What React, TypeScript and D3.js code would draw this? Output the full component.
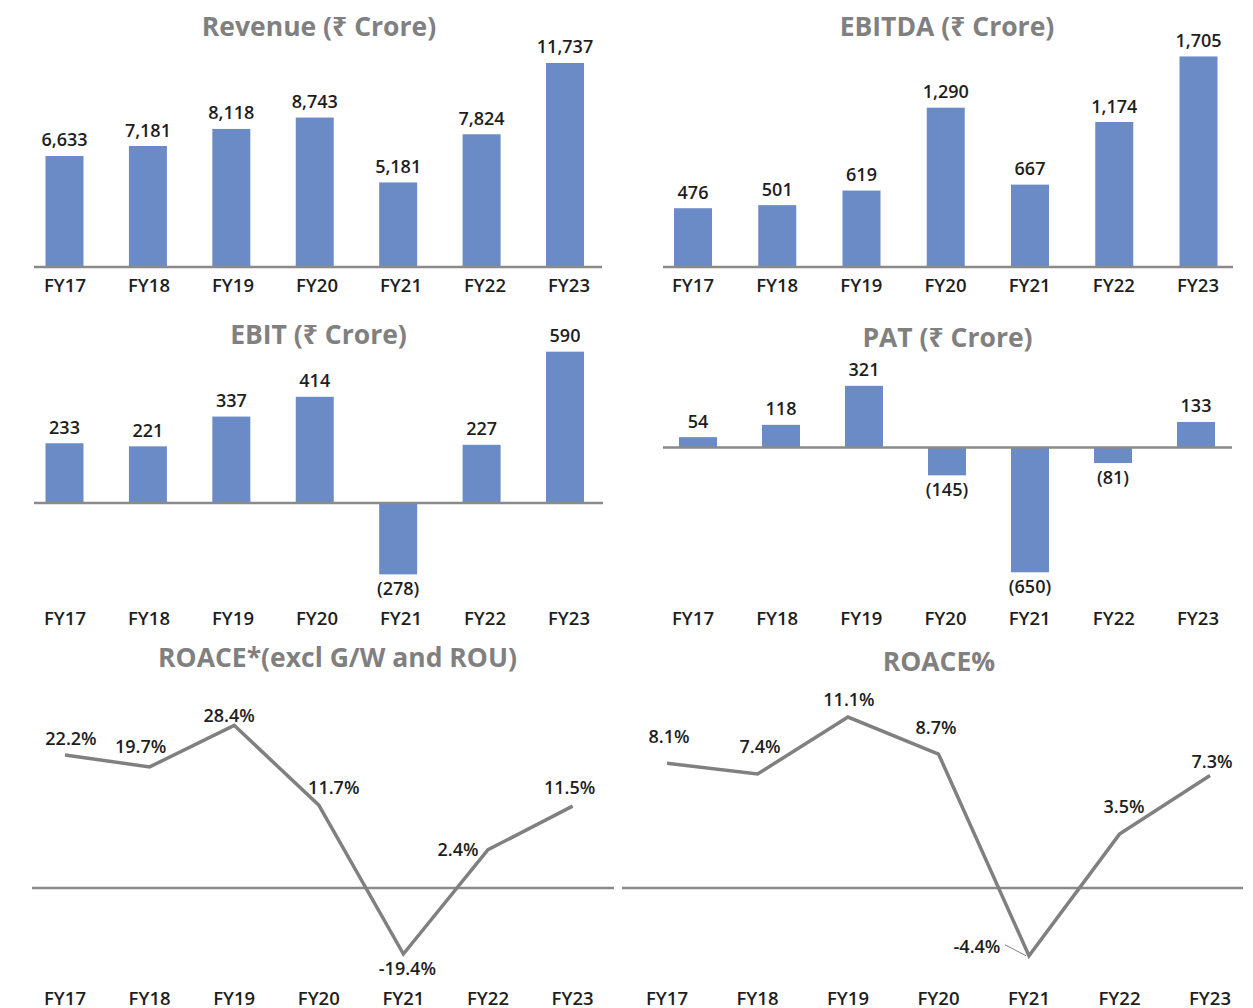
import * as d3 from 'd3';

const years = ['FY17', 'FY18', 'FY19', 'FY20', 'FY21', 'FY22', 'FY23'];
const revenue = [6633, 7181, 8118, 8743, 5181, 7824, 11737];
const ebitda = [476, 501, 619, 1290, 667, 1174, 1705];
const ebit = [233, 221, 337, 414, -278, 227, 590];
const pat = [54, 118, 321, -145, -650, -81, 133];
const roaceExcl = [22.2, 19.7, 28.4, 11.7, -19.4, 2.4, 11.5];
const roace = [8.1, 7.4, 11.1, 8.7, -4.4, 3.5, 7.3];

// label nudges for the line charts (centre of text relative to the point)
const roaceExclLabelDx = [6, -9, -5, 15, 4, -30, -3];
const roaceExclLabelDy = [-16, -20, -10, -18, 14, 0, -19];
const roaceLabelDx = [2, 2.5, 1, -2.5, -52, 4.5, 2];
const roaceLabelDy = [-27, -28, -18, -27, -9, -28, -14];

const FONT = "'Open Sans', 'Noto Sans', 'DejaVu Sans', sans-serif";
const BAR = '#6b8bc7';
const AXIS = '#8a8a8a';
const TITLE = '#808080';
const TEXT = '#1e1e1e';

const fmt = d3.format(',');
const money = (v: number) => (v < 0 ? `(${fmt(-v)})` : fmt(v));
const pct = (v: number) => `${v.toFixed(1)}%`;

type BarProps = {
  title: string;
  values: number[];
  titleX: number;
  titleY: number;
  x0: number;
  x1: number;
  first: number;
  last: number;
  catFirst: number;
  catLast: number;
  domain: [number, number];
  range: [number, number];
  catY: number;
};

const BarPanel = ({ title, values, titleX, titleY, x0, x1, first, last, catFirst, catLast, domain, range, catY }: BarProps) => {
  const x = d3.scalePoint<string>().domain(years).range([first, last]);
  const xc = d3.scalePoint<string>().domain(years).range([catFirst, catLast]);
  const y = d3.scaleLinear().domain(domain).range(range);
  const base = y(Math.max(0, domain[0]));
  const bw = 38;
  return (
    <g>
      <text x={titleX} y={titleY} textAnchor="middle" fontSize={26.5} fontWeight={700} fill={TITLE}>
        {title}
      </text>
      {values.map((v, i) => {
        const cx = x(years[i]) ?? 0;
        const yv = y(v);
        return (
          <g key={years[i]}>
            <rect x={cx - bw / 2} y={Math.min(yv, base)} width={bw} height={Math.abs(base - yv)} fill={BAR} />
            <text
              x={cx}
              y={v >= 0 ? yv - 9.5 : yv + 21}
              textAnchor="middle"
              fontSize={18}
              fontWeight={600}
              fill={TEXT}
            >
              {money(v)}
            </text>
          </g>
        );
      })}
      <line x1={x0} x2={x1} y1={base} y2={base} stroke={AXIS} strokeWidth={2.5} />
      {years.map(yr => (
        <text key={yr} x={xc(yr)} y={catY} textAnchor="middle" fontSize={18.5} fontWeight={600} fill={TEXT}>
          {yr}
        </text>
      ))}
    </g>
  );
};

type LineProps = {
  title: string;
  values: number[];
  titleX: number;
  titleY: number;
  x0: number;
  x1: number;
  first: number;
  last: number;
  domain: [number, number];
  range: [number, number];
  axisAt: number;
  catY: number;
  dx: number[];
  dy: number[];
  leader?: number;
};

const LinePanel = ({ title, values, titleX, titleY, x0, x1, first, last, domain, range, axisAt, catY, dx, dy, leader }: LineProps) => {
  const x = d3.scalePoint<string>().domain(years).range([first, last]);
  const y = d3.scaleLinear().domain(domain).range(range);
  const line = d3
    .line<number>()
    .x((_, i) => x(years[i]) ?? 0)
    .y(d => y(d));
  return (
    <g>
      <text x={titleX} y={titleY} textAnchor="middle" fontSize={26.5} fontWeight={700} fill={TITLE}>
        {title}
      </text>
      <line x1={x0} x2={x1} y1={y(axisAt)} y2={y(axisAt)} stroke={AXIS} strokeWidth={2.5} />
      <path d={line(values) ?? ''} fill="none" stroke="#808080" strokeWidth={3.5} strokeLinejoin="miter" />
      {values.map((v, i) => {
        const px = x(years[i]) ?? 0;
        const py = y(v);
        const cx = px + dx[i];
        const cy = py + dy[i];
        return (
          <g key={years[i]}>
            {leader === i && (
              <line x1={cx + 28} y1={cy - 2} x2={px - 3} y2={py} stroke="#808080" strokeWidth={1} />
            )}
            <text x={cx} y={cy + 6.5} textAnchor="middle" fontSize={18} fontWeight={600} fill={TEXT}>
              {pct(v)}
            </text>
          </g>
        );
      })}
      {years.map(yr => (
        <text key={yr} x={x(yr)} y={catY} textAnchor="middle" fontSize={18.5} fontWeight={600} fill={TEXT}>
          {yr}
        </text>
      ))}
    </g>
  );
};

export default function App() {
  return (
    <svg
      width={1253}
      height={1008}
      style={{ position: 'absolute', left: 0, top: 0, background: '#fff' }}
      fontFamily={FONT}
    >
      <BarPanel
        title="Revenue (₹ Crore)"
        values={revenue}
        titleX={319}
        titleY={36}
        x0={34}
        x1={602}
        first={64.5}
        last={565}
        catFirst={65}
        catLast={569}
        domain={[540, 12000]}
        range={[267, 58.2]}
        catY={291.5}
      />
      <BarPanel
        title="EBITDA (₹ Crore)"
        values={ebitda}
        titleX={947}
        titleY={36}
        x0={663}
        x1={1233}
        first={693}
        last={1198.5}
        catFirst={693}
        catLast={1198}
        domain={[0, 1800]}
        range={[267, 44.7]}
        catY={291.5}
      />
      <BarPanel
        title="EBIT (₹ Crore)"
        values={ebit}
        titleX={318.5}
        titleY={343.5}
        x0={34}
        x1={603}
        first={64.5}
        last={565}
        catFirst={65}
        catLast={569}
        domain={[-300, 600]}
        range={[580, 349.1]}
        catY={625}
      />
      <BarPanel
        title="PAT (₹ Crore)"
        values={pat}
        titleX={947.5}
        titleY={347}
        x0={663}
        x1={1232}
        first={698}
        last={1196}
        catFirst={693}
        catLast={1198}
        domain={[-700, 400]}
        range={[581.9, 370.7]}
        catY={625}
      />
      <LinePanel
        title="ROACE*(excl G/W and ROU)"
        values={roaceExcl}
        titleX={337.5}
        titleY={666.5}
        x0={32}
        x1={614}
        first={65}
        last={572.6}
        domain={[-20, 30]}
        range={[956.9, 717.65]}
        axisAt={-5.6}
        catY={1004.5}
        dx={roaceExclLabelDx}
        dy={roaceExclLabelDy}
      />
      <LinePanel
        title="ROACE%"
        values={roace}
        titleX={939}
        titleY={670.5}
        x0={622}
        x1={1243}
        first={667}
        last={1210}
        domain={[-5, 12]}
        range={[965, 703.2]}
        axisAt={0}
        catY={1004.5}
        dx={roaceLabelDx}
        dy={roaceLabelDy}
        leader={4}
      />
    </svg>
  );
}
